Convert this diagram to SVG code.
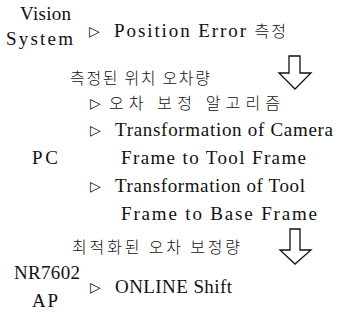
<svg xmlns="http://www.w3.org/2000/svg" width="356" height="321" viewBox="0 0 356 321">
<style>
.t{font-family:"Liberation Serif","Noto Sans CJK KR",serif;font-size:19px;fill:#111}
.k{font-family:"Noto Sans CJK KR","Liberation Serif",sans-serif;font-size:16px;font-weight:300;fill:#111}
.b{font-family:"DejaVu Sans","Noto Sans CJK KR",sans-serif;font-size:14px;fill:#111}
.a{fill:#fff;stroke:#111;stroke-width:1.3}
</style>
<rect width="356" height="321" fill="#fff"/>
<g id="vision">
<text class="t" x="20" y="20" textLength="51" lengthAdjust="spacing">Vision</text>
<text class="t" x="6" y="45" textLength="67" lengthAdjust="spacing">System</text>
<text class="b" x="89" y="36">▷</text>
<text class="t" x="114" y="37" textLength="172" lengthAdjust="spacing">Position Error <tspan class="k">측정</tspan></text>
</g>
<g id="measured">
<text class="k" x="70" y="84" textLength="140" lengthAdjust="spacing">측정된 위치 오차량</text>
</g>
<g id="pc">
<text class="t" x="32" y="164" textLength="26" lengthAdjust="spacing">PC</text>
<text class="b" x="90" y="108">▷</text>
<text class="k" x="109" y="109" textLength="171" lengthAdjust="spacing">오차 보정 알고리즘</text>
<text class="b" x="90" y="135">▷</text>
<text class="t" x="115" y="136" textLength="218" lengthAdjust="spacing">Transformation of Camera</text>
<text class="t" x="121" y="164" textLength="185" lengthAdjust="spacing">Frame to Tool Frame</text>
<text class="b" x="90" y="191">▷</text>
<text class="t" x="115" y="192" textLength="190" lengthAdjust="spacing">Transformation of Tool</text>
<text class="t" x="121" y="220" textLength="196" lengthAdjust="spacing">Frame to Base Frame</text>
</g>
<g id="optimized">
<text class="k" x="72" y="253" textLength="168" lengthAdjust="spacing">최적화된 오차 보정량</text>
</g>
<g id="nr7602">
<text class="t" x="14" y="279" textLength="66" lengthAdjust="spacing">NR7602</text>
<text class="t" x="32" y="307" textLength="26" lengthAdjust="spacing">AP</text>
<text class="b" x="90" y="292">▷</text>
<text class="t" x="115" y="293" textLength="117" lengthAdjust="spacing">ONLINE Shift</text>
</g>
<g id="connectors">
<polygon class="a" points="289,56 300,56 300,73 311,73 295,89 279,73 289,73"/>
<polygon class="a" points="290,229 300,229 300,250 311,250 295,264 280,250 290,250"/>
</g>
</svg>
